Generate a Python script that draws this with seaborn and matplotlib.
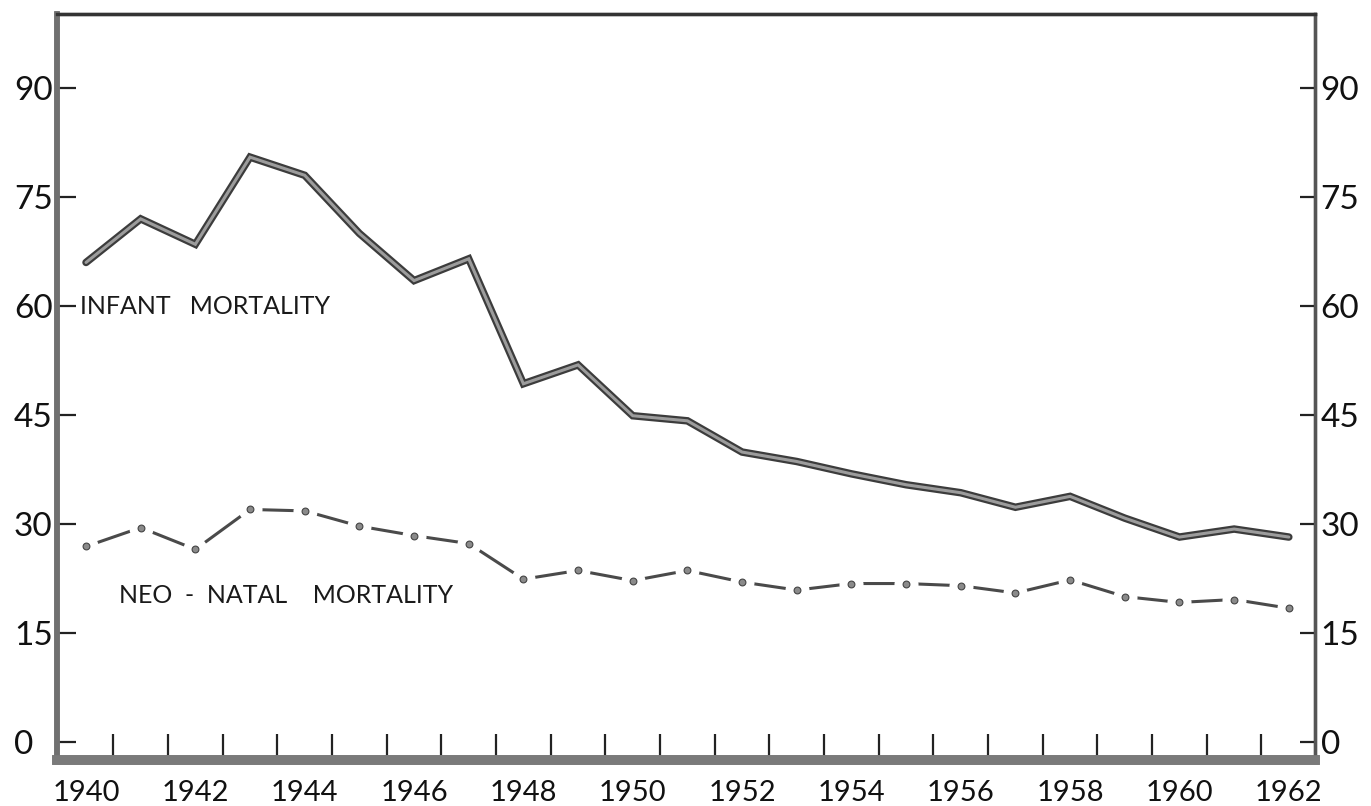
import matplotlib
matplotlib.use("Agg")
import matplotlib.pyplot as plt
import seaborn as sns
import numpy as np
import pandas as pd

years = list(range(1940, 1963))
infant = [66, 72, 68.5, 80.5, 78, 70, 63.5, 66.5, 49.3, 51.9, 44.9, 44.2, 39.9,
          38.6, 36.9, 35.4, 34.3, 32.3, 33.8, 30.8, 28.2, 29.3, 28.2]
neonatal = [26.9, 29.5, 26.5, 32.0, 31.8, 29.7, 28.4, 27.3, 22.4, 23.6, 22.2, 23.6,
            22.0, 20.9, 21.8, 21.8, 21.5, 20.5, 22.3, 20.0, 19.2, 19.6, 18.4]
ytick_vals = [0, 15, 30, 45, 60, 75, 90]
xtick_labels = list(range(1940, 1963, 2))

df = pd.DataFrame({"year": years, "infant": infant, "neonatal": neonatal})

sns.set_style("white")
plt.rcParams["font.family"] = ["Lato", "DejaVu Sans"]

fig = plt.figure(figsize=(13.71, 8.06), dpi=100)
ax = fig.add_axes([0.0416, 0.057, 0.9176, 0.9256])

# infant mortality: thick line with darker edge
sns.lineplot(data=df, x="year", y="infant", ax=ax, color="#3c3c3c", linewidth=5.4,
             zorder=3, solid_joinstyle="miter")
sns.lineplot(data=df, x="year", y="infant", ax=ax, color="#9c9c9c", linewidth=2.2,
             zorder=3.1, solid_joinstyle="miter")

# neo-natal: dashes between dots (white halo cuts the line near each point)
sns.lineplot(data=df, x="year", y="neonatal", ax=ax, color="#4a4a4a", linewidth=2.2, zorder=2)
sns.scatterplot(data=df, x="year", y="neonatal", ax=ax, color="white", s=300,
                linewidth=0, zorder=2.5)
sns.scatterplot(data=df, x="year", y="neonatal", ax=ax, color="#8a8a8a", s=24,
                edgecolor="#444444", linewidth=0.8, zorder=2.6)

ax.set_xlim(1939.47, 1962.48)
ax.set_ylim(-2.5, 100.2)
ax.set_xlabel("")
ax.set_ylabel("")

ax.set_xticks(xtick_labels)
ax.set_xticklabels([str(y) for y in xtick_labels], fontsize=21)
ax.set_xticks(np.array(years[:-1]) + 0.5, minor=True)
ax.tick_params(axis="x", which="major", length=0, pad=14, colors="#111111")
ax.tick_params(axis="x", which="minor", bottom=True, direction="in", length=19,
               width=1.6, color="#222222")

# left axis: labels left-aligned near the figure edge
ax.set_yticks(ytick_vals)
ax.set_yticklabels([str(v) for v in ytick_vals], fontsize=24)
ax.tick_params(axis="y", which="major", left=True, right=False, direction="in",
               length=14, width=1.6, color="#222222", labelcolor="#111111", pad=31)
for lab in ax.get_yticklabels():
    lab.set_horizontalalignment("left")

# right axis: same scale, labels close to the spine
ax2 = ax.twinx()
ax2.set_ylim(ax.get_ylim())
ax2.set_yticks(ytick_vals)
ax2.set_yticklabels([str(v) for v in ytick_vals], fontsize=24)
ax2.tick_params(axis="y", which="major", right=True, direction="in", length=11,
                width=1.6, color="#222222", labelcolor="#111111", pad=4)
ax2.grid(False)

for a in (ax, ax2):
    for side, lw, col in [("left", 4.0, "#707070"), ("bottom", 7.0, "#7a7a7a"),
                          ("top", 2.4, "#333333"), ("right", 2.4, "#555555")]:
        a.spines[side].set_visible(True)
        a.spines[side].set_linewidth(lw)
        a.spines[side].set_color(col)

ax.text(1939.89, 60, "INFANT   MORTALITY", fontsize=18, va="center", ha="left",
        color="#1a1a1a")
ax.text(1940.6, 20.2, "NEO  -  NATAL    MORTALITY", fontsize=18, va="center", ha="left",
        color="#1a1a1a")

fig.savefig("out.png", dpi=100)
